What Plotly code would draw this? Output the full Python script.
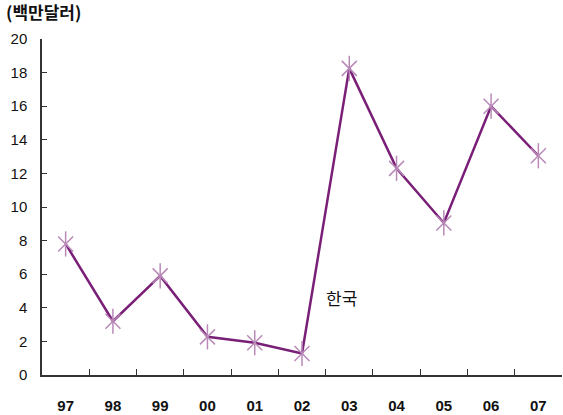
import plotly.graph_objects as go

years = ["97", "98", "99", "00", "01", "02", "03", "04", "05", "06", "07"]
korea = [7.8, 3.2, 5.9, 2.27, 1.92, 1.28, 18.25, 12.3, 9.05, 16.0, 13.05]

line_color = "#7a1f78"
marker_color = "#b98ab8"

fig = go.Figure()
fig.add_trace(go.Scatter(
    x=years, y=korea, mode="lines",
    line=dict(color=line_color, width=2.5),
    showlegend=False, hoverinfo="skip",
))
# six-armed star marker: an X plus a vertical stroke
fig.add_trace(go.Scatter(
    x=years, y=korea, mode="markers",
    marker=dict(symbol="x-thin-open", size=15, color=marker_color, line=dict(width=1.5)),
    showlegend=False, hoverinfo="skip",
))
fig.add_trace(go.Scatter(
    x=years, y=korea, mode="markers",
    marker=dict(symbol="line-ns-open", size=18, color=marker_color, line=dict(width=1.5)),
    showlegend=False, hoverinfo="skip",
))

fig.add_annotation(
    x=5, y=4.6, xshift=22, text="한국", showarrow=False, xanchor="left",
    font=dict(family="Noto Sans CJK KR", size=17, color="#111"),
)
fig.add_annotation(
    xref="paper", yref="paper", x=-0.073, y=1.04, xanchor="left", yanchor="bottom",
    text="<b>(백만달러)</b>", showarrow=False,
    font=dict(family="Noto Sans CJK KR", size=17, color="#111"),
)

fig.update_xaxes(
    type="category",
    range=[-0.5, 10.5],
    tickson="boundaries",
    ticks="inside",
    ticklen=6,
    tickcolor="#333",
    showline=True,
    linecolor="#333",
    linewidth=1.5,
    showgrid=False,
    tickfont=dict(family="Liberation Sans Narrow, Arial Narrow, sans-serif", size=15, color="#111", weight="bold"),
    ticklabelstandoff=16,
)
fig.update_yaxes(
    range=[0, 20],
    dtick=2,
    ticks="inside",
    ticklen=5,
    tickcolor="#333",
    showline=True,
    linecolor="#333",
    linewidth=1.5,
    showgrid=False,
    zeroline=False,
    tickfont=dict(family="Liberation Sans Narrow, Arial Narrow, sans-serif", size=15, color="#111"),
    ticklabelstandoff=10,
)

fig.update_layout(
    width=563,
    height=415,
    margin=dict(l=42, r=1, t=39, b=40),
    plot_bgcolor="white",
    paper_bgcolor="white",
)

fig.write_html(
    "out.html",
    config={"displayModeBar": False},
    post_script="document.body.style.margin='0px';",
)
